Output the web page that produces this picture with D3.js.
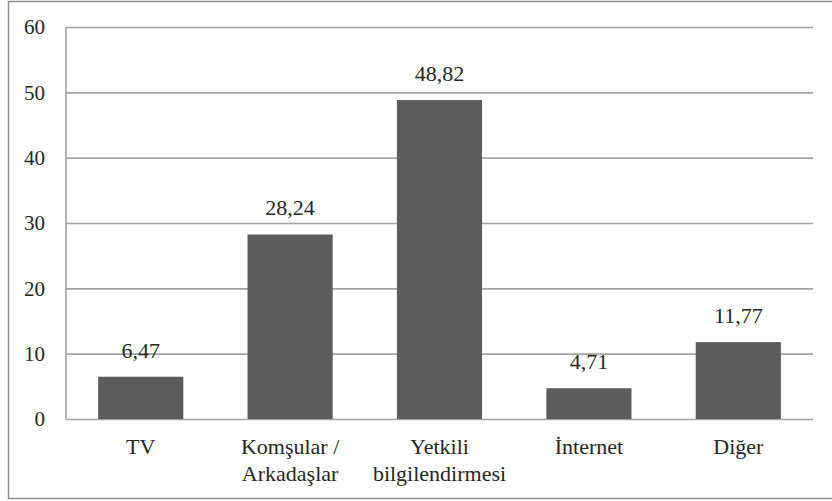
<!DOCTYPE html>
<html>
<head>
<meta charset="utf-8">
<script src="https://cdn.jsdelivr.net/npm/d3@7"></script>
<style>
  html, body { margin: 0; padding: 0; background: #fff; }
  svg { display: block; }
</style>
</head>
<body>
<svg id="chart" width="832" height="501"></svg>
<script>
// Information source categories (two-line labels split on "\n")
const categories = ["TV", "Komşular /\nArkadaşlar", "Yetkili\nbilgilendirmesi", "İnternet", "Diğer"];
const values = [6.47, 28.24, 48.82, 4.71, 11.77];
const yTicks = [0, 10, 20, 30, 40, 50, 60];

const FONT_STYLE = "font-family: 'Liberation Serif'; fill: #262626;";

const svg = d3.select("#chart");
const plot = { left: 66, right: 813, top: 27, bottom: 419 };

// Outer frame of the chart area
svg.append("rect")
  .attr("x", 8.5).attr("y", 1.5)
  .attr("width", 900).attr("height", 497)
  .attr("fill", "none")
  .attr("stroke", "#8f8f8f")
  .attr("stroke-width", 1.5);

const x = d3.scaleBand()
  .domain(categories)
  .range([plot.left, plot.right])
  .paddingInner(0.43)
  .paddingOuter(0.215);

const y = d3.scaleLinear()
  .domain([0, 60])
  .range([plot.bottom, plot.top]);

// Horizontal gridlines and y tick labels
const yAxis = d3.axisLeft(y)
  .tickValues(yTicks)
  .tickSize(-(plot.right - plot.left))
  .tickPadding(21)
  .tickFormat(d3.format("d"));

const gY = svg.append("g")
  .attr("transform", `translate(${plot.left},0)`)
  .call(yAxis)
  .attr("font-size", 21);
gY.select(".domain").remove();
gY.selectAll(".tick line")
  .attr("stroke", "#a3a3a3")
  .attr("stroke-width", 1.6);
gY.selectAll(".tick text")
  .attr("style", FONT_STYLE);

// Vertical axis line
svg.append("line")
  .attr("x1", plot.left).attr("x2", plot.left)
  .attr("y1", y(60)).attr("y2", y(0))
  .attr("stroke", "#a3a3a3")
  .attr("stroke-width", 1.6);

// Bars
svg.append("g")
  .selectAll("rect")
  .data(values)
  .join("rect")
  .attr("x", (d, i) => x(categories[i]))
  .attr("y", d => y(d))
  .attr("width", x.bandwidth())
  .attr("height", d => y(0) - y(d))
  .attr("fill", "#5c5c5c");

// Value labels above bars (Turkish decimal comma)
const fmt = d => d.toFixed(2).replace(".", ",");
svg.append("g")
  .selectAll("text")
  .data(values)
  .join("text")
  .attr("style", FONT_STYLE)
  .attr("x", (d, i) => x(categories[i]) + x.bandwidth() / 2)
  .attr("y", d => y(d) - 19)
  .attr("text-anchor", "middle")
  .attr("font-size", 22)
  .text(fmt);

// Category labels below the axis
const catG = svg.append("g");
categories.forEach(c => {
  const t = catG.append("text")
    .attr("style", FONT_STYLE)
    .attr("x", x(c) + x.bandwidth() / 2)
    .attr("y", 454)
    .attr("text-anchor", "middle")
    .attr("font-size", 22);
  c.split("\n").forEach((line, j) => {
    t.append("tspan")
      .attr("x", x(c) + x.bandwidth() / 2)
      .attr("dy", j === 0 ? 0 : 26.5)
      .text(line);
  });
});
</script>
</body>
</html>
